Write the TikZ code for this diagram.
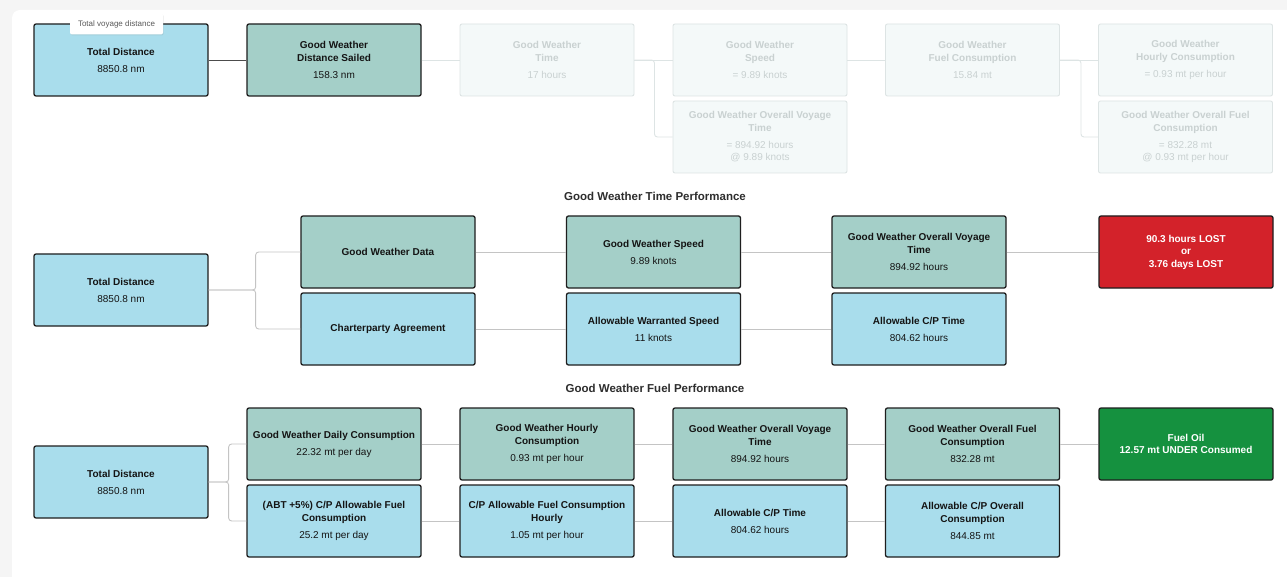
\documentclass[tikz,border=0pt]{standalone}
\usepackage{fontspec}
\setmainfont{Liberation Sans}
\usetikzlibrary{shadows}

\definecolor{cpblue}{HTML}{A9DDEC}
\definecolor{gwteal}{HTML}{A4CFC8}
\definecolor{fadefill}{HTML}{F4F9F9}
\definecolor{fadeline}{HTML}{DDE4E4}
\definecolor{fadetext}{HTML}{C9D1D1}
\definecolor{lostred}{HTML}{D3222A}
\definecolor{undergreen}{HTML}{15913F}
\definecolor{linkgray}{HTML}{C4C4C4}
\definecolor{pagebg}{HTML}{F5F5F5}
\definecolor{boxline}{HTML}{1E1E1E}

\newcommand{\boxval}[1]{{\mdseries#1}}

\tikzset{
  box/.style={draw=boxline, line width=1.3pt, rounded corners=2pt, minimum width=174pt, minimum height=72pt, align=center, inner sep=2pt, text=black!92, font=\fontsize{10}{12.5}\selectfont\bfseries},
  cpbox/.style={box, fill=cpblue},
  gwbox/.style={box, fill=gwteal},
  fadebox/.style={box, draw=fadeline, line width=0.9pt, fill=fadefill, text=fadetext},
  lostbox/.style={box, fill=lostred, text=white},
  underbox/.style={box, fill=undergreen, text=white},
  heading/.style={text=black!82, font=\fontsize{11.5}{14}\selectfont\bfseries},
  tipbox/.style={fill=white, rounded corners=2pt, minimum width=93pt, minimum height=21pt, inner sep=1pt, text=black!65, font=\fontsize{8}{10}\selectfont, drop shadow={opacity=0.18, shadow xshift=0.6pt, shadow yshift=-1pt}},
  link/.style={draw=linkgray, line width=0.9pt},
  darklink/.style={draw=black!70, line width=0.9pt},
  fadelink/.style={draw=fadeline, line width=0.9pt}
}

\begin{document}
\begin{tikzpicture}[x=1pt, y=-1pt]
  \useasboundingbox (0,0) rectangle (1287,577);
  \fill[pagebg] (0,0) rectangle (1287,577);
  \fill[white, rounded corners=8pt] (12,10) rectangle (1310,600);

  \node[cpbox] (topdist) at (121,60) {Total Distance\\[4.5pt]\boxval{8850.8 nm}};
  \node[gwbox] (topsailed) at (334,60) {Good Weather\\Distance Sailed\\[4.5pt]\boxval{158.3 nm}};
  \node[fadebox] (toptime) at (547,60) {Good Weather\\Time\\[4.5pt]\boxval{17 hours}};
  \node[fadebox] (topspeed) at (760,60) {Good Weather\\Speed\\[4.5pt]\boxval{= 9.89 knots}};
  \node[fadebox] (topvoyage) at (760,137) {Good Weather Overall Voyage\\Time\\[4.5pt]\boxval{= 894.92 hours}\\\boxval{@ 9.89 knots}};
  \node[fadebox] (topfuel) at (972.5,60) {Good Weather\\Fuel Consumption\\[4.5pt]\boxval{15.84 mt}};
  \node[fadebox] (tophourly) at (1185.5,60) {Good Weather\\Hourly Consumption\\[4.5pt]\boxval{= 0.93 mt per hour}};
  \node[fadebox] (topoverall) at (1185.5,137) {Good Weather Overall Fuel\\Consumption\\[4.5pt]\boxval{= 832.28 mt}\\\boxval{@ 0.93 mt per hour}};
  \node[tipbox] (toptip) at (116.5,24) {Total voyage distance};

  \draw[darklink] (topdist) -- (topsailed);
  \draw[fadelink] (topsailed) -- (toptime);
  \draw[fadelink] (toptime) -- (topspeed);
  \draw[fadelink, rounded corners=3pt] (toptime.east) -- ++(20,0) |- (topvoyage.west);
  \draw[fadelink] (topspeed) -- (topfuel);
  \draw[fadelink] (topfuel) -- (tophourly);
  \draw[fadelink, rounded corners=3pt] (topfuel.east) -- ++(21,0) |- (topoverall.west);

  \node[heading] (timehead) at (655,196) {Good Weather Time Performance};
  \node[cpbox] (timedist) at (121,290) {Total Distance\\[4.5pt]\boxval{8850.8 nm}};
  \node[gwbox] (timedata) at (388,252) {Good Weather Data};
  \node[cpbox] (timecp) at (388,329) {Charterparty Agreement};
  \node[gwbox] (timespeed) at (653.5,252) {Good Weather Speed\\[4.5pt]\boxval{9.89 knots}};
  \node[cpbox] (timewarranted) at (653.5,329) {Allowable Warranted Speed\\[4.5pt]\boxval{11 knots}};
  \node[gwbox] (timevoyage) at (919,252) {Good Weather Overall Voyage\\Time\\[4.5pt]\boxval{894.92 hours}};
  \node[cpbox] (timeallowed) at (919,329) {Allowable C/P Time\\[4.5pt]\boxval{804.62 hours}};
  \node[lostbox] (timelost) at (1186,252) {90.3 hours LOST\\or\\3.76 days LOST};

  \draw[link, rounded corners=3pt] (timedist.east) -- ++(47,0) |- (timedata.west);
  \draw[link, rounded corners=3pt] (timedist.east) -- ++(47,0) |- (timecp.west);
  \draw[link] (timedata) -- (timespeed);
  \draw[link] (timespeed) -- (timevoyage);
  \draw[link] (timevoyage) -- (timelost);
  \draw[link] (timecp) -- (timewarranted);
  \draw[link] (timewarranted) -- (timeallowed);

  \node[heading] (fuelhead) at (655,388) {Good Weather Fuel Performance};
  \node[cpbox] (fueldist) at (121,482) {Total Distance\\[4.5pt]\boxval{8850.8 nm}};
  \node[gwbox] (fueldaily) at (334,444) {Good Weather Daily Consumption\\[4.5pt]\boxval{22.32 mt per day}};
  \node[cpbox] (fuelcpdaily) at (334,521) {(ABT +5\%) C/P Allowable Fuel\\Consumption\\[4.5pt]\boxval{25.2 mt per day}};
  \node[gwbox] (fuelhourly) at (547,444) {Good Weather Hourly\\Consumption\\[4.5pt]\boxval{0.93 mt per hour}};
  \node[cpbox] (fuelcphourly) at (547,521) {C/P Allowable Fuel Consumption\\Hourly\\[4.5pt]\boxval{1.05 mt per hour}};
  \node[gwbox] (fuelvoyage) at (760,444) {Good Weather Overall Voyage\\Time\\[4.5pt]\boxval{894.92 hours}};
  \node[cpbox] (fuelcptime) at (760,521) {Allowable C/P Time\\[4.5pt]\boxval{804.62 hours}};
  \node[gwbox] (fueloverall) at (972.5,444) {Good Weather Overall Fuel\\Consumption\\[4.5pt]\boxval{832.28 mt}};
  \node[cpbox] (fuelcpoverall) at (972.5,521) {Allowable C/P Overall\\Consumption\\[4.5pt]\boxval{844.85 mt}};
  \node[underbox] (fuelunder) at (1186,444) {Fuel Oil\\12.57 mt UNDER Consumed};

  \draw[link, rounded corners=3pt] (fueldist.east) -- ++(20,0) |- (fueldaily.west);
  \draw[link, rounded corners=3pt] (fueldist.east) -- ++(20,0) |- (fuelcpdaily.west);
  \draw[link] (fueldaily) -- (fuelhourly);
  \draw[link] (fuelhourly) -- (fuelvoyage);
  \draw[link] (fuelvoyage) -- (fueloverall);
  \draw[link] (fueloverall) -- (fuelunder);
  \draw[link] (fuelcpdaily) -- (fuelcphourly);
  \draw[link] (fuelcphourly) -- (fuelcptime);
  \draw[link] (fuelcptime) -- (fuelcpoverall);
\end{tikzpicture}
\end{document}
